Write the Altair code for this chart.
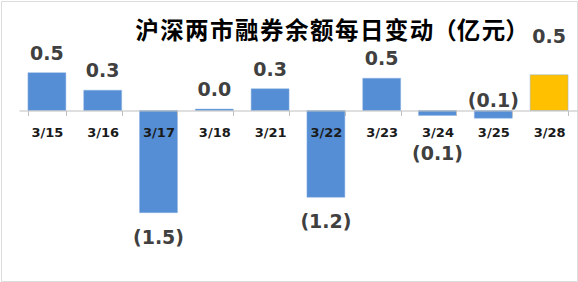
import altair as alt
import pandas as pd

# ---- data ----
dates = ["3/15", "3/16", "3/17", "3/18", "3/21", "3/22", "3/23", "3/24", "3/25", "3/28"]
changes = [0.54, 0.29, -1.46, 0.02, 0.31, -1.24, 0.46, -0.07, -0.11, 0.51]
title_text = "沪深两市融券余额每日变动（亿元）"
highlight_date = "3/28"

df = pd.DataFrame({"date": dates, "change": changes})

BLUE = "#558ED5"
GOLD = "#FFC000"
LABEL_FONT = "DejaVu Sans"

y_scale = alt.Scale(domain=[-2.436, 1.564], nice=False, zero=False)
x_scale = alt.Scale(domain=dates, range=[18, 576], paddingInner=0.32, paddingOuter=0.16)

x_axis = alt.Axis(
    orient="bottom", offset=-170.5, title=None, labelAngle=0, grid=False,
    domainColor="#BFBFBF", tickColor="#BFBFBF", tickSize=5, tickBand="extent",
    labelFont=LABEL_FONT, labelFontWeight="bold", labelFontSize=13,
    labelColor="#1a1a1a", labelPadding=11, zindex=1,
)

x_enc = alt.X("date:N", sort=dates, scale=x_scale, axis=x_axis)

base = alt.Chart(df)

bars = base.mark_bar(stroke="#8DB3E2", strokeWidth=0.5).encode(
    x=x_enc,
    y=alt.Y("change:Q", scale=y_scale, axis=None),
    color=alt.condition(alt.datum.date == highlight_date, alt.value(GOLD), alt.value(BLUE)),
)

def value_text(dy, filt, zero=False):
    ch = base.transform_filter(filt)
    if zero:
        ch = ch.transform_calculate(zero_pos="0")
        yenc = alt.Y("zero_pos:Q", scale=y_scale, axis=None)
    else:
        yenc = alt.Y("change:Q", scale=y_scale, axis=None)
    return ch.mark_text(
        font=LABEL_FONT, fontWeight="bold", fontSize=19, color="#404040",
        baseline="alphabetic", align="center", dy=dy,
    ).encode(
        x=x_enc,
        y=yenc,
        text=alt.Text("change:Q", format="(.1f"),
    )

pos_labels = value_text(-13, (alt.datum.change >= 0) & (alt.datum.date != highlight_date))
neg_labels = value_text(31, (alt.datum.change < 0) & (alt.datum.date != "3/24") & (alt.datum.date != "3/25"))
lbl_324 = value_text(45, alt.datum.date == "3/24")
lbl_325 = value_text(-3.5, alt.datum.date == "3/25", zero=True)
lbl_hl = value_text(-32, alt.datum.date == highlight_date)

# hair spaces widen the title's character pitch a little, as in the reference
main_part, unit_part = title_text.split("（")
spaced_title = "\u200a".join(main_part) + "（" + "\u200a".join(unit_part.rstrip("）")) + "）"

title = alt.Chart(pd.DataFrame({"t": [spaced_title]})).mark_text(
    font="Noto Sans CJK SC", fontWeight="bold", fontSize=23.5, color="#000000",
    align="center", baseline="middle",
).encode(x=alt.value(331), y=alt.value(31), text="t:N")

chart = alt.layer(bars, pos_labels, neg_labels, lbl_324, lbl_325, lbl_hl, title).properties(
    width=576, height=280,
    padding={"left": 1, "top": 1, "right": 1, "bottom": 1},
    autosize="none",
).configure_view(stroke="#A0A0A0", strokeWidth=2, fill="white").configure(background="white")

chart.save("out.html", embed_options={"renderer": "svg", "actions": False})
